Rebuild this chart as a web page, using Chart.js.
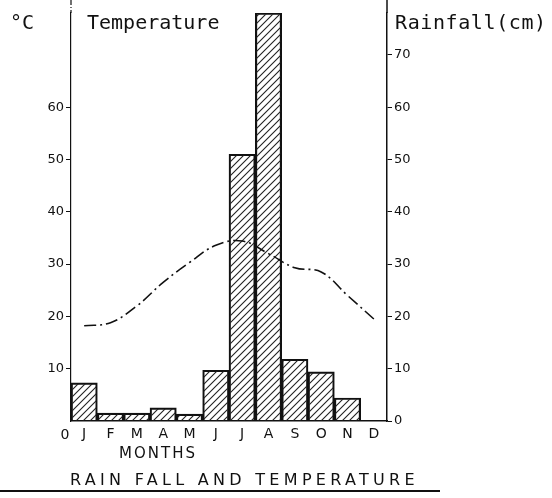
<!DOCTYPE html>
<html>
<head>
<meta charset="utf-8">
<script src="https://cdn.jsdelivr.net/npm/chart.js@4"></script>
<style>
  body { margin: 0; background: #fff; }
  #wrap { width: 552px; height: 498px; }
</style>
</head>
<body>
<div id="wrap"><canvas id="climate"></canvas></div>
<script>
const months = ['J', 'F', 'M', 'A', 'M', 'J', 'J', 'A', 'S', 'O', 'N', 'D'];
const rainfall = [7.3, 1.5, 1.5, 2.5, 1.3, 9.7, 51, 78, 11.8, 9.4, 4.4, 0];
const temperature = [18.2, 18.8, 22, 26.5, 30.3, 33.6, 34.4, 32, 29.3, 28.5, 24, 19.5];
const tempTicks = [10, 20, 30, 40, 50, 60];
const rainTicks = [0, 10, 20, 30, 40, 50, 60, 70];

// diagonal hatch for the bars
function hatch() {
    const c = document.createElement('canvas');
    c.width = 7;
    c.height = 7;
    const g = c.getContext('2d');
    g.strokeStyle = '#222';
    g.lineWidth = 1.1;
    g.beginPath();
    g.moveTo(0, 7); g.lineTo(7, 0);
    g.moveTo(-2, 2); g.lineTo(2, -2);
    g.moveTo(5, 9); g.lineTo(9, 5);
    g.stroke();
    return g.createPattern(c, 'repeat');
}

const extras = {
    id: 'extras',
    afterDraw(chart) {
        const ctx = chart.ctx;
        const a = chart.chartArea;
        ctx.save();
        ctx.fillStyle = '#111';
        ctx.strokeStyle = '#111';

        // axis lines running up past the plot top
        ctx.lineWidth = 1.2;
        ctx.setLineDash([5, 2, 1, 2]);
        ctx.beginPath();
        ctx.moveTo(a.left, 0); ctx.lineTo(a.left, a.top);
        ctx.stroke();
        ctx.setLineDash([]);
        ctx.lineWidth = 1.5;
        ctx.beginPath();
        ctx.moveTo(a.right, 0); ctx.lineTo(a.right, a.top);
        ctx.stroke();

        ctx.font = '20px "DejaVu Sans Mono"';
        ctx.textBaseline = 'alphabetic';
        ctx.textAlign = 'left';
        ctx.fillText('°C', 10, 29);
        ctx.fillText('Temperature', 87, 29);
        ctx.letterSpacing = '0.6px';
        ctx.fillText('Rainfall(cm)', 395, 29);
        ctx.letterSpacing = '0px';

        ctx.font = '14px "DejaVu Sans"';
        ctx.textAlign = 'center';
        ctx.fillText('0', a.left - 6, a.bottom + 18);

        ctx.textAlign = 'left';
        ctx.font = '15px "DejaVu Sans"';
        ctx.letterSpacing = '2px';
        ctx.fillText('MONTHS', 119, 458);

        ctx.font = '16px "DejaVu Sans"';
        ctx.letterSpacing = '4.3px';
        ctx.fillText('RAIN FALL AND TEMPERATURE', 70, 485);
        ctx.letterSpacing = '0px';

        ctx.lineWidth = 2;
        ctx.beginPath();
        ctx.moveTo(0, 491); ctx.lineTo(440, 491);
        ctx.stroke();
        ctx.restore();
    }
};

new Chart(document.getElementById('climate'), {
    data: {
        labels: months,
        datasets: [{
                type: 'line',
                label: 'Temperature',
                data: temperature,
                yAxisID: 'y',
                borderColor: '#111',
                borderWidth: 1.6,
                borderDash: [12, 4, 2, 4],
                tension: 0.4,
                pointRadius: 0,
                order: 0
            }, {
                type: 'bar',
                label: 'Rainfall',
                data: rainfall,
                yAxisID: 'y2',
                backgroundColor: hatch(),
                borderColor: '#111',
                borderWidth: 1.5,
                categoryPercentage: 1,
                barPercentage: 1,
                order: 1
            }]
    },
    options: {
        responsive: true,
        maintainAspectRatio: false,
        animation: false,
        layout: { padding: { top: 13, left: 0, right: 0, bottom: 0 } },
        plugins: { legend: { display: false }, tooltip: { enabled: false } },
        scales: {
            x: {
                grid: { display: false, drawTicks: false },
                border: { color: '#111', width: 1.5 },
                ticks: { color: '#111', font: { size: 14, family: 'DejaVu Sans' }, padding: 5, maxRotation: 0, autoSkip: false },
                afterFit(s) { s.height = 77; }
            },
            y: {
                position: 'left',
                min: 0,
                max: 78,
                afterBuildTicks(s) { s.ticks = tempTicks.map(v => ({ value: v })); },
                grid: { drawOnChartArea: false, tickLength: 5, color: '#111' },
                border: { color: '#111', width: 1.2, dash: [5, 2, 1, 2] },
                ticks: { color: '#111', font: { size: 13, family: 'DejaVu Sans' }, padding: 2 },
                afterFit(s) { s.width = 71; }
            },
            y2: {
                position: 'right',
                min: 0,
                max: 78,
                afterBuildTicks(s) { s.ticks = rainTicks.map(v => ({ value: v })); },
                grid: { drawOnChartArea: false, tickLength: 5, color: '#111' },
                border: { color: '#111', width: 1.5 },
                ticks: { color: '#111', font: { size: 13, family: 'DejaVu Sans' }, padding: 2 },
                afterFit(s) { s.width = 165; }
            }
        }
    },
    plugins: [extras]
});
</script>
</body>
</html>
